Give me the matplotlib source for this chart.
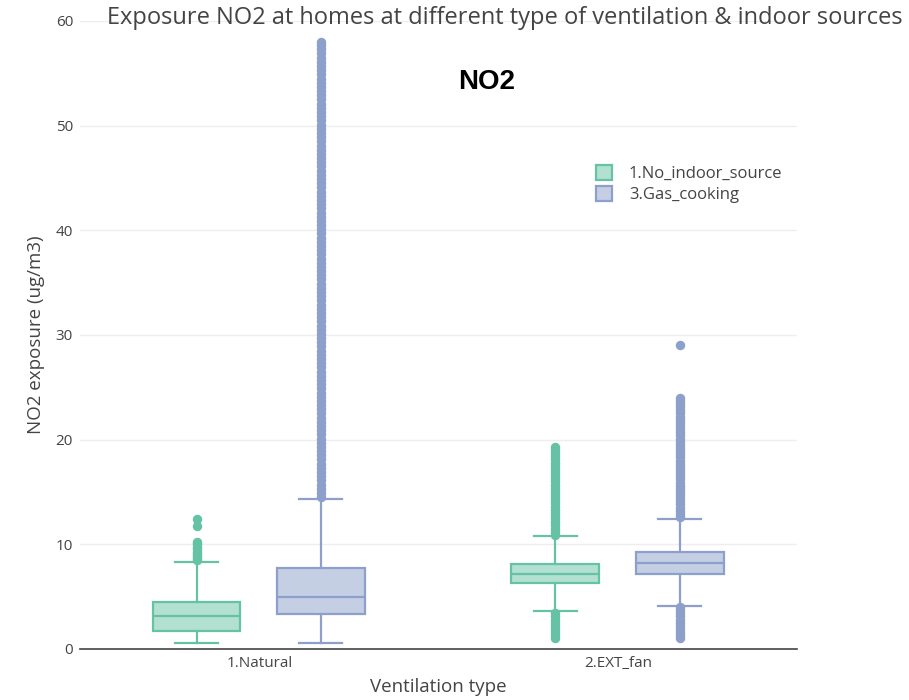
import matplotlib.pyplot as plt
from matplotlib.patches import Patch

plt.rcParams['font.family'] = ['Open Sans', 'DejaVu Sans']

# categories and series
ventilation = ["1.Natural", "2.EXT_fan"]
sources = ["1.No_indoor_source", "3.Gas_cooking"]
colors = ["#66c2a5", "#8da0cb"]

# box statistics, [Natural, EXT_fan] per source
q1 = {"1.No_indoor_source": [1.75, 6.3], "3.Gas_cooking": [3.35, 7.2]}
median = {"1.No_indoor_source": [3.15, 7.15], "3.Gas_cooking": [5.0, 8.2]}
q3 = {"1.No_indoor_source": [4.5, 8.1], "3.Gas_cooking": [7.75, 9.3]}
whis_lo = {"1.No_indoor_source": [0.6, 3.6], "3.Gas_cooking": [0.6, 4.1]}
whis_hi = {"1.No_indoor_source": [8.3, 10.8], "3.Gas_cooking": [14.35, 12.4]}

# outliers (dense runs read as close-spaced values)
fliers = {
    "1.No_indoor_source": [
        [8.5, 8.7, 8.9, 9.1, 9.3, 9.5, 9.75, 10.0, 10.2, 11.7, 12.4],
        [1.05, 1.3, 1.6, 1.9, 2.2, 2.5, 2.8, 3.1, 3.4,
         10.9, 11.2, 11.5, 11.8, 12.1, 12.4, 12.7, 13.0, 13.3, 13.6, 13.9,
         14.2, 14.5, 14.8, 15.1, 15.4, 15.7, 16.0, 16.3, 16.6, 16.9, 17.2,
         17.5, 17.8, 18.1, 18.4, 18.7, 19.0, 19.3],
    ],
    "3.Gas_cooking": [
        [14.5, 14.9, 15.3, 15.7, 16.1, 16.5, 16.9, 17.3, 17.7, 18.1, 18.5,
         18.9, 19.3, 19.7, 20.1, 20.5, 20.9, 21.3, 21.7, 22.1, 22.5, 22.9,
         23.3, 23.7, 24.1, 24.5, 24.9, 25.3, 25.7, 26.1, 26.5, 26.9, 27.3,
         27.7, 28.1, 28.5, 28.9, 29.3, 29.7, 30.1, 30.5, 30.9, 31.3, 31.7,
         32.1, 32.5, 32.9, 33.3, 33.7, 34.1, 34.5, 34.9, 35.3, 35.7, 36.1,
         36.5, 36.9, 37.3, 37.7, 38.1, 38.5, 38.9, 39.3, 39.7, 40.1, 40.5,
         40.9, 41.3, 41.7, 42.1, 42.5, 42.9, 43.3, 43.7, 44.1, 44.5, 44.9,
         45.3, 45.7, 46.1, 46.5, 46.9, 47.3, 47.7, 48.1, 48.5, 48.9, 49.3,
         49.7, 50.1, 50.5, 50.9, 51.3, 51.7, 52.1, 52.5, 52.9, 53.3, 53.7,
         54.1, 54.5, 54.9, 55.3, 55.7, 56.1, 56.5, 56.9, 57.3, 57.7, 58.0],
        [1.05, 1.3, 1.6, 1.9, 2.2, 2.5, 2.8, 3.1, 3.4, 3.7, 4.0,
         12.6, 12.9, 13.2, 13.5, 13.8, 14.1, 14.4, 14.7, 15.0, 15.3, 15.6,
         15.9, 16.2, 16.5, 16.8, 17.1, 17.4, 17.7, 18.0, 18.3, 18.6, 18.9,
         19.2, 19.5, 19.8, 20.1, 20.4, 20.7, 21.0, 21.3, 21.6, 21.9, 22.2,
         22.5, 22.8, 23.1, 23.4, 23.7, 24.0, 29.0],
    ],
}

fig = plt.figure(figsize=(9.09, 7), dpi=100)
ax = fig.add_axes([0.088, 0.073, 0.789, 0.897])

offsets = [-0.175, 0.172]
for k, src in enumerate(sources):
    stats = []
    for i in range(len(ventilation)):
        stats.append(dict(q1=q1[src][i], med=median[src][i], q3=q3[src][i],
                          whislo=whis_lo[src][i], whishi=whis_hi[src][i],
                          fliers=fliers[src][i]))
    c = colors[k]
    ax.bxp(stats, positions=[i + offsets[k] for i in range(len(ventilation))],
           widths=0.245, capwidths=0.12, patch_artist=True, manage_ticks=False,
           boxprops=dict(facecolor=c + "80", edgecolor=c, linewidth=1.6),
           medianprops=dict(color=c, linewidth=1.6),
           whiskerprops=dict(color=c, linewidth=1.6),
           capprops=dict(color=c, linewidth=1.6),
           flierprops=dict(marker="o", markersize=5.8, markerfacecolor=c,
                           markeredgecolor=c, linestyle="none"))

ax.set_xlim(-0.5, 1.5)
ax.set_ylim(0, 60)
ax.set_xticks(range(len(ventilation)))
ax.set_xticklabels(ventilation)
ax.set_yticks([0, 10, 20, 30, 40, 50, 60])
ax.tick_params(length=0, colors="#444444", labelsize=11, pad=5)
ax.grid(axis="y", color="#eeeeee", linewidth=1)
ax.set_axisbelow(True)
for s in ["top", "right", "left"]:
    ax.spines[s].set_visible(False)
ax.spines["bottom"].set_color("#444444")
ax.spines["bottom"].set_linewidth(1.2)

ax.set_xlabel("Ventilation type", color="#444444", fontsize=13.5, labelpad=5)
ax.set_ylabel("NO2 exposure (ug/m3)", color="#444444", fontsize=13.5, labelpad=8)

fig.text(107 / 909, 1 - 18 / 700, "Exposure NO2 at homes at different type of ventilation & indoor sources",
         color="#444444", fontsize=17, va="center", ha="left")
fig.text(487 / 909, 1 - 82 / 700, "NO2", color="black", fontsize=20, fontweight="bold",
         family=["Liberation Sans", "DejaVu Sans"], ha="center", va="center")

handles = [Patch(facecolor=c + "80", edgecolor=c, linewidth=1.6) for c in colors]
leg = ax.legend(handles, sources, loc="upper left", bbox_to_anchor=(0.698, 0.795),
                frameon=False, fontsize=12, handlelength=1.0, handleheight=1.0,
                labelspacing=0.25, handletextpad=1.0)
for t in leg.get_texts():
    t.set_color("#444444")

fig.savefig("out.png", dpi=100)
